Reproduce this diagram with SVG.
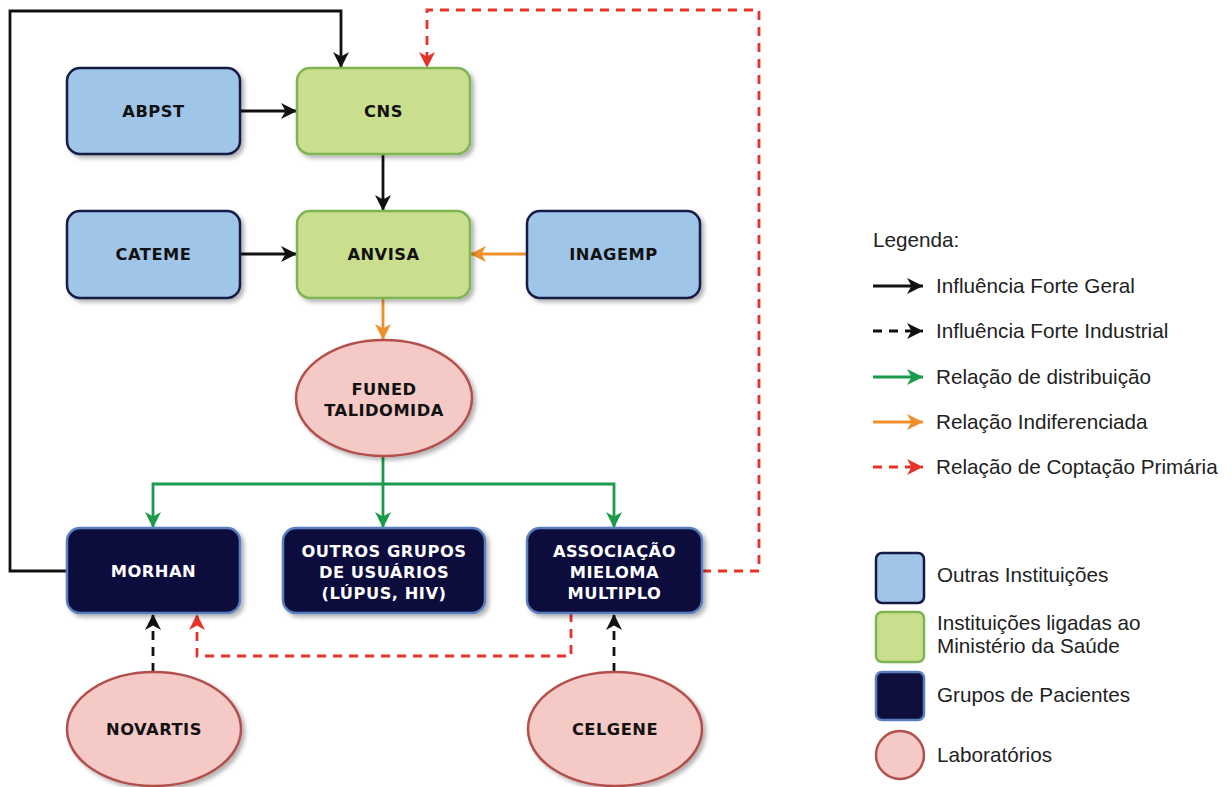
<svg xmlns="http://www.w3.org/2000/svg" width="1232" height="787" viewBox="0 0 1232 787">
<style>
.lbl{font-family:"DejaVu Sans",Verdana,sans-serif;font-weight:bold;font-size:16.3px;letter-spacing:0.5px;text-anchor:middle}
.dk{fill:#111}
.wt{fill:#fff}
.blue{fill:#9fc5e8;stroke:#141a45;stroke-width:2.5}
.green{fill:#c9df8d;stroke:#80b452;stroke-width:2.5}
.navy{fill:#0e0f3d;stroke:#5a7fc0;stroke-width:2.5}
.pink{fill:#f5c9c6;stroke:#b3504c;stroke-width:2.5}
.c{fill:none;stroke-width:2.8}
.k{stroke:#111}
.g{stroke:#1a9a4a}
.o{stroke:#ef8f2b}
.r{stroke:#e53329}
.dash{stroke-dasharray:9 7}
.leg{font-family:"Liberation Sans",Arial,sans-serif;font-size:20.7px;fill:#222}
</style>
<defs>
<filter id="sh" x="-10%" y="-10%" width="130%" height="130%">
<feDropShadow dx="3" dy="3" stdDeviation="2" flood-color="#000" flood-opacity="0.3"/>
</filter>
<marker id="ak" viewBox="0 0 16 16" refX="16" refY="8" markerWidth="16" markerHeight="16" markerUnits="userSpaceOnUse" orient="auto"><path d="M0,0 L16,8 L0,16 L4.5,8 z" fill="#111"/></marker>
<marker id="ag" viewBox="0 0 16 16" refX="16" refY="8" markerWidth="16" markerHeight="16" markerUnits="userSpaceOnUse" orient="auto"><path d="M0,0 L16,8 L0,16 L4.5,8 z" fill="#1a9a4a"/></marker>
<marker id="ao" viewBox="0 0 16 16" refX="16" refY="8" markerWidth="16" markerHeight="16" markerUnits="userSpaceOnUse" orient="auto"><path d="M0,0 L16,8 L0,16 L4.5,8 z" fill="#ef8f2b"/></marker>
<marker id="ar" viewBox="0 0 16 16" refX="16" refY="8" markerWidth="16" markerHeight="16" markerUnits="userSpaceOnUse" orient="auto"><path d="M0,0 L16,8 L0,16 L4.5,8 z" fill="#e53329"/></marker>
</defs>
<rect width="1232" height="787" fill="#fff"/>

<g id="connectors">
<path class="c k" d="M67,571 H10 V11 H341 V68" marker-end="url(#ak)"/>
<path class="c r dash" d="M702,571 H759 V10 H427 V68" marker-end="url(#ar)"/>
<path class="c k" d="M240,111 H297" marker-end="url(#ak)"/>
<path class="c k" d="M383,154 V211" marker-end="url(#ak)"/>
<path class="c k" d="M240,254 H297" marker-end="url(#ak)"/>
<path class="c o" d="M527,254 H470" marker-end="url(#ao)"/>
<path class="c o" d="M383,298 V340" marker-end="url(#ao)"/>
<path class="c g" d="M383,456 V528" marker-end="url(#ag)"/>
<path class="c g" d="M383,484 H153 V528" marker-end="url(#ag)"/>
<path class="c g" d="M383,484 H614 V528" marker-end="url(#ag)"/>
<path class="c k dash" d="M153,672 V614" marker-end="url(#ak)"/>
<path class="c k dash" d="M614,672 V614" marker-end="url(#ak)"/>
<path class="c r dash" d="M571,613 V656 H197 V614" marker-end="url(#ar)"/>
</g>

<g id="n-abpst"><rect class="blue" x="67" y="68" width="173" height="86" rx="13" filter="url(#sh)"/><text class="lbl dk" x="153.5" y="117">ABPST</text></g>
<g id="n-cns"><rect class="green" x="297" y="68" width="173" height="86" rx="13" filter="url(#sh)"/><text class="lbl dk" x="383.5" y="117">CNS</text></g>
<g id="n-cateme"><rect class="blue" x="67" y="211" width="173" height="87" rx="13" filter="url(#sh)"/><text class="lbl dk" x="153.5" y="260">CATEME</text></g>
<g id="n-anvisa"><rect class="green" x="297" y="211" width="173" height="87" rx="13" filter="url(#sh)"/><text class="lbl dk" x="383.5" y="260">ANVISA</text></g>
<g id="n-inagemp"><rect class="blue" x="527" y="211" width="173" height="87" rx="13" filter="url(#sh)"/><text class="lbl dk" x="613.5" y="260">INAGEMP</text></g>
<g id="n-funed"><ellipse class="pink" cx="384" cy="398" rx="88" ry="58" filter="url(#sh)"/><text class="lbl dk" x="384" y="395">FUNED</text><text class="lbl dk" x="384" y="416">TALIDOMIDA</text></g>
<g id="n-morhan"><rect class="navy" x="67" y="528" width="173" height="85" rx="13" filter="url(#sh)"/><text class="lbl wt" x="153.5" y="577">MORHAN</text></g>
<g id="n-outros"><rect class="navy" x="283" y="528" width="202" height="85" rx="13" filter="url(#sh)"/><text class="lbl wt" x="384" y="557">OUTROS GRUPOS</text><text class="lbl wt" x="384" y="578">DE USUÁRIOS</text><text class="lbl wt" x="384" y="599">(LÚPUS, HIV)</text></g>
<g id="n-assoc"><rect class="navy" x="527" y="528" width="175" height="85" rx="13" filter="url(#sh)"/><text class="lbl wt" x="614.5" y="557">ASSOCIAÇÃO</text><text class="lbl wt" x="614.5" y="578">MIELOMA</text><text class="lbl wt" x="614.5" y="599">MULTIPLO</text></g>
<g id="n-novartis"><ellipse class="pink" cx="154" cy="729" rx="87" ry="57" filter="url(#sh)"/><text class="lbl dk" x="154" y="735">NOVARTIS</text></g>
<g id="n-celgene"><ellipse class="pink" cx="615" cy="729" rx="87" ry="57" filter="url(#sh)"/><text class="lbl dk" x="615" y="735">CELGENE</text></g>

<g id="legend">
<text class="leg" x="873" y="247">Legenda:</text>
<path class="c k" d="M873,286 H923" marker-end="url(#ak)"/>
<text class="leg" x="936" y="293">Influência Forte Geral</text>
<path class="c k" d="M873,331 H923" stroke-dasharray="9 7" marker-end="url(#ak)"/>
<text class="leg" x="936" y="338">Influência Forte Industrial</text>
<path class="c g" d="M873,377 H923" marker-end="url(#ag)"/>
<text class="leg" x="936" y="384">Relação de distribuição</text>
<path class="c o" d="M873,422 H923" marker-end="url(#ao)"/>
<text class="leg" x="936" y="429">Relação Indiferenciada</text>
<path class="c r" d="M873,467 H923" stroke-dasharray="9 7" marker-end="url(#ar)"/>
<text class="leg" x="936" y="474">Relação de Coptação Primária</text>
<rect class="blue" x="876" y="553" width="48" height="50" rx="6" stroke-width="1.5"/>
<text class="leg" x="937" y="582">Outras Instituições</text>
<rect class="green" x="876" y="612" width="48" height="50" rx="6" stroke-width="1.5"/>
<text class="leg" x="937" y="630">Instituições ligadas ao</text>
<text class="leg" x="937" y="653">Ministério da Saúde</text>
<rect class="navy" x="876" y="672" width="48" height="48" rx="6" stroke-width="1.5"/>
<text class="leg" x="937" y="702">Grupos de Pacientes</text>
<circle class="pink" cx="900" cy="755" r="24" stroke-width="1.5"/>
<text class="leg" x="937" y="762">Laboratórios</text>
</g>
</svg>
